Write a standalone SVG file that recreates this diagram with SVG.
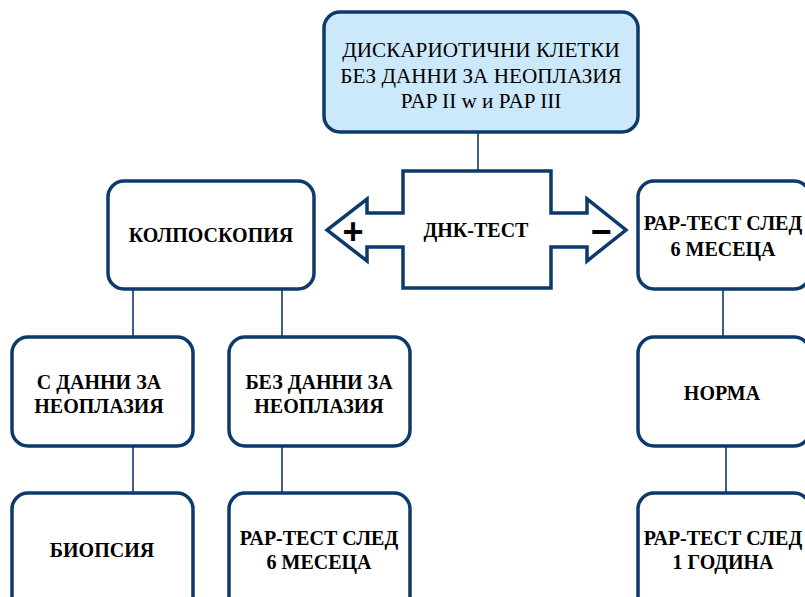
<svg xmlns="http://www.w3.org/2000/svg" width="805" height="597" viewBox="0 0 805 597">
<style>
.box{fill:#ffffff;stroke:#0c3a6b;stroke-width:3.5}
.top{fill:#cce9fb}
.con{stroke:#0c3a6b;stroke-width:1.6;fill:none}
text{font-family:"Liberation Serif","Times New Roman",serif;fill:#000;text-anchor:middle}
.b{font-weight:bold;font-size:20px}
.r{font-size:21.2px}
.sign{font-family:"Liberation Sans",Arial,sans-serif;font-weight:bold;font-size:36px}
</style>
<rect width="805" height="597" fill="#ffffff"/>
<g id="connectors">
<line class="con" x1="478" y1="132" x2="478" y2="171"/>
<line class="con" x1="133" y1="290" x2="133" y2="337"/>
<line class="con" x1="282" y1="290" x2="282" y2="337"/>
<line class="con" x1="133" y1="446" x2="133" y2="493"/>
<line class="con" x1="282" y1="446" x2="282" y2="493"/>
<line class="con" x1="723" y1="289" x2="723" y2="337"/>
<line class="con" x1="726" y1="446" x2="726" y2="493"/>
</g>
<g id="n-top">
<rect class="box top" x="324" y="12" width="314" height="120" rx="16"/>
<text class="r" x="481" y="57">ДИСКАРИОТИЧНИ КЛЕТКИ</text>
<text class="r" x="481" y="83">БЕЗ ДАННИ ЗА НЕОПЛАЗИЯ</text>
<text class="r" x="481" y="108">PAP II w и PAP III</text>
</g>
<g id="n-dna">
<path class="box" d="M403 171 H551 V213 H587 V199 L626 230 L587 261 V247 H551 V288 H403 V247 H367 V261 L327 230 L367 199 V213 H403 Z"/>
<text class="b" x="476" y="237">ДНК-ТЕСТ</text>
<text class="sign" x="353" y="244">+</text>
<text class="sign" x="601" y="244">−</text>
</g>
<g id="n-kolpo">
<rect class="box" x="108" y="181" width="206" height="108" rx="16"/>
<text class="b" x="211" y="242">КОЛПОСКОПИЯ</text>
</g>
<g id="n-pap6a">
<rect class="box" x="638" y="181" width="172" height="108" rx="16"/>
<text class="b" x="723" y="230">РАР-ТЕСТ СЛЕД</text>
<text class="b" x="723" y="256">6 МЕСЕЦА</text>
</g>
<g id="n-sdanni">
<rect class="box" x="12" y="337" width="181" height="109" rx="16"/>
<text class="b" x="99" y="389">С ДАННИ ЗА</text>
<text class="b" x="99" y="413">НЕОПЛАЗИЯ</text>
</g>
<g id="n-bezdanni">
<rect class="box" x="229" y="337" width="181" height="109" rx="16"/>
<text class="b" x="319" y="389">БЕЗ ДАННИ ЗА</text>
<text class="b" x="319" y="413">НЕОПЛАЗИЯ</text>
</g>
<g id="n-norma">
<rect class="box" x="638" y="337" width="172" height="109" rx="16"/>
<text class="b" x="722" y="400">НОРМА</text>
</g>
<g id="n-biopsia">
<rect class="box" x="12" y="493" width="181" height="120" rx="16"/>
<text class="b" x="102" y="557">БИОПСИЯ</text>
</g>
<g id="n-pap6b">
<rect class="box" x="229" y="493" width="181" height="120" rx="16"/>
<text class="b" x="319" y="545">РАР-ТЕСТ СЛЕД</text>
<text class="b" x="319" y="569">6 МЕСЕЦА</text>
</g>
<g id="n-pap1">
<rect class="box" x="638" y="493" width="172" height="120" rx="16"/>
<text class="b" x="723" y="545">РАР-ТЕСТ СЛЕД</text>
<text class="b" x="723" y="569">1 ГОДИНА</text>
</g>
</svg>
